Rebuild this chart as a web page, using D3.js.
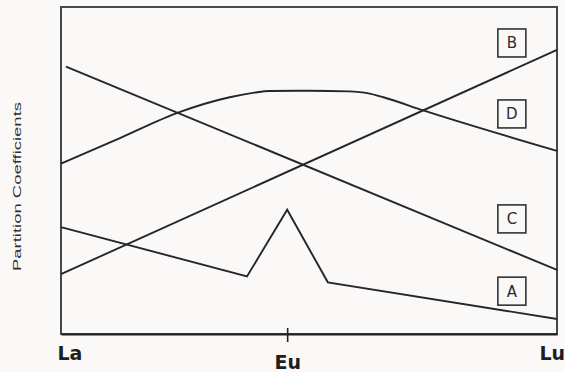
<!DOCTYPE html>
<html>
<head>
<meta charset="utf-8">
<script src="https://cdn.jsdelivr.net/npm/d3@7/dist/d3.min.js"></script>
<style>
  html, body { margin: 0; padding: 0; background: #fbf8f8; }
  svg { display: block; }
</style>
</head>
<body>
<script>
// REE partition-coefficient patterns (schematic, unitless y axis).
// x positions run 0 (La) to 100 (Lu); y values are relative 0-100.
const tickNames = ["La", "Eu", "Lu"];
const tickPos = [0, 45.6, 100];

const posA = [0, 37.5, 45.6, 53.8, 100];
const valA = [32.7, 17.6, 38.0, 15.8, 4.6];

const posB = [0, 100];
const valB = [18.3, 86.9];

const posC = [1, 100];
const valC = [81.8, 19.6];

const posD = [0, 12, 23.6, 34, 39, 42, 50, 58, 62, 65, 73.2, 100];
const valD = [52.1, 60.0, 67.7, 72.4, 73.8, 74.3, 74.4, 74.2, 73.6, 72.4, 68.3, 56.0];

const labelNames = ["B", "D", "C", "A"];
const labelX = [90.9, 90.9, 90.9, 90.9];
const labelY = [89.0, 67.3, 35.2, 13.1];

const yTitle = "Partition Coefficients";

const W = 565, H = 372;
const margin = { left: 61, right: 8, top: 7, bottom: 38 };

const svg = d3.select("body").append("svg")
  .attr("width", W).attr("height", H);

const x = d3.scaleLinear().domain([0, 100]).range([margin.left, W - margin.right]);
const y = d3.scaleLinear().domain([0, 100]).range([H - margin.bottom, margin.top]);

const ink = "#262626";

// plot frame
svg.append("rect")
  .attr("x", x(0)).attr("y", y(100))
  .attr("width", x(100) - x(0)).attr("height", y(0) - y(100))
  .attr("fill", "none").attr("stroke", "#474747").attr("stroke-width", 2);

// series lines
const series = [
  { name: "A", pos: posA, val: valA, curve: d3.curveLinear },
  { name: "B", pos: posB, val: valB, curve: d3.curveLinear },
  { name: "C", pos: posC, val: valC, curve: d3.curveLinear },
  { name: "D", pos: posD, val: valD, curve: d3.curveMonotoneX }
];

series.forEach(s => {
  const pts = s.pos.map((p, i) => [p, s.val[i]]);
  const line = d3.line().x(d => x(d[0])).y(d => y(d[1])).curve(s.curve);
  svg.append("path")
    .datum(pts)
    .attr("d", line)
    .attr("fill", "none")
    .attr("stroke", ink)
    .attr("stroke-width", 1.9)
    .attr("stroke-linejoin", "miter");
});

// bottom axis
const xAxis = d3.axisBottom(x)
  .tickValues(tickPos)
  .tickFormat((d, i) => tickNames[i])
  .tickSize(0)
  .tickSizeOuter(0);

const gx = svg.append("g")
  .attr("transform", `translate(0,${y(0)})`)
  .call(xAxis);

gx.select(".domain").attr("stroke", "#222").attr("stroke-width", 2.2);

gx.selectAll(".tick text")
  .attr("fill", "#1e1e1e")
  .attr("font-family", "'DejaVu Sans', Verdana, sans-serif")
  .attr("font-weight", "bold")
  .attr("font-size", 19)
  .attr("dy", (d, i) => i === 1 ? "1.68em" : "1.2em")
  .attr("text-anchor", (d, i) => i === 1 ? "middle" : "start")
  .attr("dx", (d, i) => i === 0 ? -4 : (i === 2 ? -18 : 0));

// tick mark at Eu, crossing the axis line
gx.selectAll(".tick")
  .filter((d, i) => i === 1)
  .append("line")
  .attr("y1", -6).attr("y2", 8)
  .attr("stroke", "#222").attr("stroke-width", 1.6);

// y-axis title
svg.append("text")
  .attr("transform", `translate(21,${(y(0) + y(100)) / 2 + 16}) rotate(-90)`)
  .attr("text-anchor", "middle")
  .attr("font-family", "Arial, 'Liberation Sans', sans-serif")
  .attr("font-size", 11.5)
  .attr("fill", "#2e2e2e")
  .attr("textLength", 169)
  .attr("lengthAdjust", "spacingAndGlyphs")
  .text(yTitle);

// boxed series labels
const boxSize = 28;
const lab = svg.append("g").selectAll("g")
  .data(labelNames)
  .join("g")
  .attr("transform", (d, i) => `translate(${x(labelX[i])},${y(labelY[i])})`);

lab.append("rect")
  .attr("x", -boxSize / 2).attr("y", -boxSize / 2)
  .attr("width", boxSize).attr("height", boxSize)
  .attr("fill", "#fbf8f8")
  .attr("stroke", "#333").attr("stroke-width", 1.6);

lab.append("text")
  .attr("text-anchor", "middle")
  .attr("dy", "0.36em")
  .attr("font-family", "'DejaVu Sans', Verdana, sans-serif")
  .attr("font-size", 15)
  .attr("fill", "#2b2b2b")
  .text(d => d);
</script>
</body>
</html>
